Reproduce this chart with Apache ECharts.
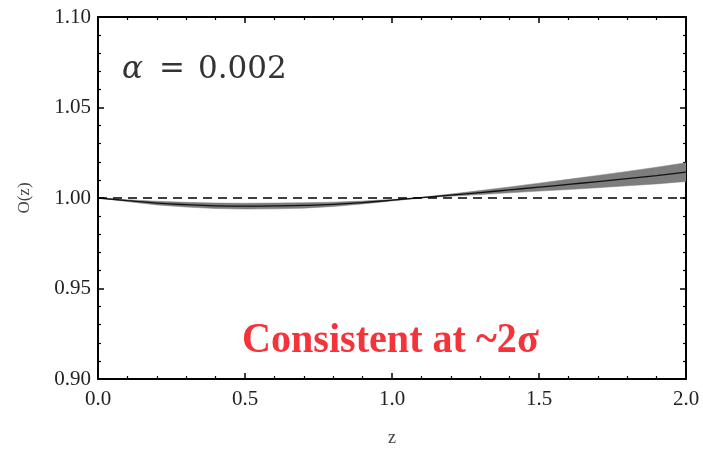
<!DOCTYPE html>
<html>
<head>
<meta charset="utf-8">
<script src="https://cdn.jsdelivr.net/npm/echarts@6/dist/echarts.min.js"></script>
<style>
html,body{margin:0;padding:0;background:#fff;}
#chart{width:703px;height:452px;}
</style>
</head>
<body>
<div id="chart"></div>
<script>
const zValues = [0.0,0.1,0.2,0.3,0.4,0.5,0.6,0.7,0.8,0.9,1.0,1.1,1.2,1.3,1.4,1.5,1.6,1.7,1.8,1.9,2.0];
const centralO = [1.0000,0.9985,0.9972,0.9963,0.9957,0.9955,0.9956,0.9959,0.9965,0.9975,0.9988,1.0002,1.0016,1.0030,1.0045,1.0060,1.0075,1.0091,1.0107,1.0124,1.0143];
const upperO   = [1.0000,0.9990,0.9982,0.9976,0.9972,0.9971,0.9972,0.9974,0.9977,0.9983,0.9992,1.0004,1.0022,1.0041,1.0061,1.0082,1.0103,1.0125,1.0147,1.0170,1.0195];
const lowerO   = [1.0000,0.9980,0.9962,0.9950,0.9942,0.9939,0.9940,0.9944,0.9953,0.9967,0.9984,1.0000,1.0010,1.0019,1.0029,1.0038,1.0047,1.0057,1.0067,1.0078,1.0091];
const referenceLevel = 1.0;
const xTicks = [0.0, 0.5, 1.0, 1.5, 2.0];
const yTicks = [0.90, 0.95, 1.00, 1.05, 1.10];
const alphaText = '0.002';
const noteText = 'Consistent at ~2σ';

const chart = echarts.init(document.getElementById('chart'), null, {renderer: 'canvas'});
const serif = '"Liberation Serif", "Times New Roman", serif';
const mathFont = '"DejaVu Serif", serif';

const centralPairs = zValues.map((z, i) => [z, centralO[i]]);

function xAxisCfg(pos, labels) {
  return {
    type: 'value', position: pos, min: xTicks[0], max: xTicks[xTicks.length-1], interval: 0.5,
    axisLine: {show: true, onZero: false, lineStyle: {color: '#000', width: 2}},
    axisTick: {show: true, inside: true, length: 6, lineStyle: {color: '#000', width: 1.5}},
    minorTick: {show: true, splitNumber: 5, length: 3, lineStyle: {color: '#000', width: 1.2}},
    splitLine: {show: false}, minorSplitLine: {show: false},
    axisLabel: {show: labels, color: '#222', fontFamily: serif, fontSize: 21, margin: 10,
      formatter: v => v.toFixed(1)},
    name: labels ? 'z' : '', nameLocation: 'middle', nameGap: 50,
    nameTextStyle: {color: '#444', fontFamily: serif, fontSize: 18}
  };
}
function yAxisCfg(pos, labels) {
  return {
    type: 'value', position: pos, min: yTicks[0], max: yTicks[yTicks.length-1], interval: 0.05,
    axisLine: {show: true, onZero: false, lineStyle: {color: '#000', width: 2}},
    axisTick: {show: true, inside: true, length: 6, lineStyle: {color: '#000', width: 1.5}},
    minorTick: {show: true, splitNumber: 5, length: 3, lineStyle: {color: '#000', width: 1.2}},
    splitLine: {show: false}, minorSplitLine: {show: false},
    axisLabel: {show: labels, color: '#222', fontFamily: serif, fontSize: 21, margin: 7,
      formatter: v => v.toFixed(2)},
    name: labels ? 'O(z)' : '', nameLocation: 'middle', nameGap: 65, nameRotate: 90,
    nameTextStyle: {color: '#444', fontFamily: serif, fontSize: 17}
  };
}

chart.setOption({
  backgroundColor: '#fff',
  animation: false,
  grid: {left: 98, right: 17, top: 17, bottom: 72, containLabel: false},
  xAxis: [xAxisCfg('bottom', true), xAxisCfg('top', false)],
  yAxis: [yAxisCfg('left', true), yAxisCfg('right', false)],
  graphic: [
    {type: 'text', left: 122, top: 54, style: {text: 'α', fontFamily: mathFont, fontStyle: 'italic', fontSize: 31, fill: '#333'}},
    {type: 'text', left: 159, top: 54, style: {text: '=', fontFamily: mathFont, fontSize: 31, fill: '#333'}},
    {type: 'text', left: 198, top: 54, style: {text: alphaText, fontFamily: mathFont, fontSize: 31, fill: '#333'}},
    {type: 'text', x: 242, y: 341, scaleX: 0.955, style: {
      text: noteText, fontFamily: serif, fontWeight: 'bold', fontSize: 42, fill: '#f5333b',
      verticalAlign: 'middle', align: 'left'
    }}
  ],
  series: [
    {type: 'custom', name: 'band', silent: true, z: 1, clip: true,
      data: [0],
      renderItem: function (params, api) {
        const pts = [];
        for (let i = 0; i < zValues.length; i++) pts.push(api.coord([zValues[i], upperO[i]]));
        for (let i = zValues.length - 1; i >= 0; i--) pts.push(api.coord([zValues[i], lowerO[i]]));
        return {type: 'polygon', shape: {points: pts}, style: {fill: '#7d7d7d', stroke: '#7d7d7d', lineWidth: 0.5}};
      }},
    {type: 'line', name: 'central', data: centralPairs, smooth: true, symbol: 'none',
      lineStyle: {color: '#111', width: 1.3}, z: 3,
      markLine: {silent: true, symbol: 'none', label: {show: false},
        lineStyle: {color: '#000', type: [9, 6], width: 1.6},
        data: [{yAxis: referenceLevel}]}}
  ]
});
</script>
</body>
</html>
